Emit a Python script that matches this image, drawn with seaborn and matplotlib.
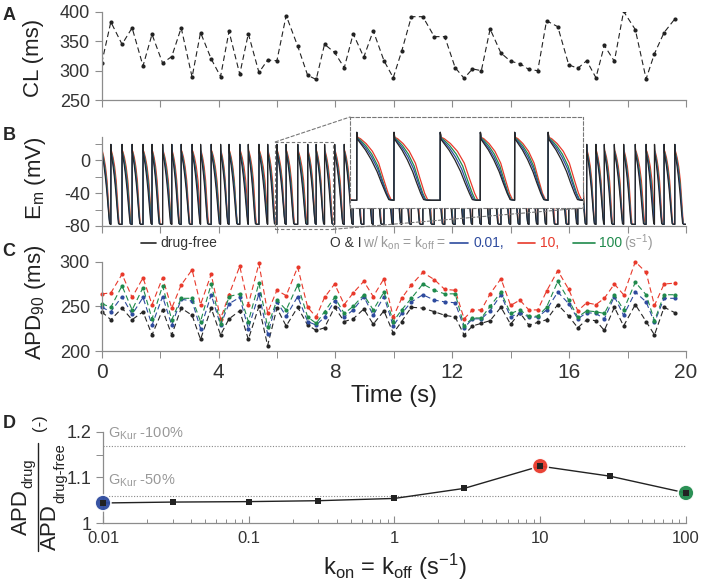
import numpy as np
import pandas as pd
import matplotlib
matplotlib.use('Agg')
import matplotlib.pyplot as plt
import seaborn as sns
from matplotlib.lines import Line2D
from matplotlib.patches import Rectangle, ConnectionPatch

sns.set_style('ticks')
plt.rcParams['font.family'] = ['Liberation Sans', 'DejaVu Sans']
plt.rcParams['mathtext.fontset'] = 'custom'
plt.rcParams['mathtext.rm'] = 'Liberation Sans'
plt.rcParams['mathtext.default'] = 'regular'
plt.rcParams['axes.unicode_minus'] = False

# ---- data ----
# cycle length of each beat (ms); beat i lasts cl_ms[i]
cl_ms = [313, 383, 345, 373, 308, 362, 313, 324, 373, 289,
         365, 320, 290, 367, 294, 363, 297, 318, 317, 394,
         342, 292, 285, 345, 331, 305, 363, 323, 368, 317,
         288, 333, 392, 392, 358, 358, 305, 287, 303, 300,
         371, 330, 316, 312, 302, 300, 385, 375, 310, 304,
         317, 288, 343, 316, 401, 370, 286, 329, 365, 388]

# APD90 (ms) per beat
apd_free = [244, 235, 248, 235, 244, 218, 246, 218, 248, 240,
            213, 248, 218, 236, 245, 213, 250, 206, 248, 228,
            249, 229, 223, 226, 249, 233, 236, 247, 230, 245,
            220, 233, 249, 248, 244, 240, 238, 218, 228, 231,
            234, 249, 230, 243, 229, 232, 235, 252, 239, 226,
            235, 234, 223, 249, 228, 252, 233, 218, 249, 243]
apd_001 = [249, 244, 261, 241, 260, 229, 261, 229, 258, 256,
           225, 263, 229, 253, 260, 225, 264, 219, 255, 239,
           261, 233, 229, 238, 256, 238, 246, 261, 240, 261,
           228, 242, 255, 263, 257, 255, 254, 226, 236, 236,
           245, 263, 238, 243, 238, 238, 246, 266, 253, 236,
           243, 242, 236, 261, 240, 266, 255, 232, 259, 259]
apd_10 = [264, 265, 286, 260, 282, 252, 282, 248, 274, 291,
          252, 286, 236, 263, 295, 252, 298, 243, 268, 262,
          294, 249, 238, 260, 275, 252, 265, 278, 261, 281,
          238, 259, 274, 288, 280, 269, 268, 236, 246, 246,
          264, 281, 251, 257, 246, 246, 267, 290, 269, 245,
          254, 252, 259, 275, 263, 300, 288, 251, 275, 276]
apd_100 = [253, 249, 273, 246, 271, 236, 273, 235, 259, 259,
           233, 275, 230, 261, 264, 233, 276, 227, 257, 246,
           274, 238, 231, 244, 260, 242, 250, 263, 246, 266,
           233, 246, 259, 275, 268, 264, 264, 228, 237, 237,
           250, 266, 242, 246, 239, 239, 249, 278, 257, 238,
           245, 244, 242, 263, 246, 277, 263, 234, 263, 263]

# action potential shape (fraction of APD90 -> mV)
ap_frac = [0.0, 0.004, 0.03, 0.12, 0.3, 0.5, 0.7, 0.85, 1.0]
ap_mv_free = [-78, 19, 9, 4, -6, -20, -37, -53, -68]
ap_mv_001 = [-78, 19, 10, 6, -3, -16, -33, -51, -68]
ap_mv_100 = [-78, 19, 11, 8, 0, -12, -29, -49, -68]
ap_mv_10 = [-78, 19, 12, 10, 3, -8, -25, -47, -68]

# panel D
k_rate = [0.01, 0.03, 0.1, 0.3, 1, 3, 10, 30, 100]
apd_ratio = [1.044, 1.046, 1.047, 1.049, 1.054, 1.076, 1.125, 1.103, 1.066]
gkur_levels = [1.169, 1.060]

series = ['drug-free', '0.01', '10', '100']
colors = {'drug-free': '#262626', '0.01': '#2e4b9e', '10': '#e8392b', '100': '#1f8a4c'}
apd_all = {'drug-free': apd_free, '0.01': apd_001, '10': apd_10, '100': apd_100}
ap_mv_all = {'drug-free': ap_mv_free, '0.01': ap_mv_001, '10': ap_mv_10, '100': ap_mv_100}

beat_t = np.concatenate([[0], np.cumsum(cl_ms[:-1])]) / 1000.0

W, H = 701, 582
def box(l, t, r, b):
    return [l / W, 1 - b / H, (r - l) / W, (b - t) / H]

def fx(x):
    return x / W

def fy(y):
    return 1 - y / H

GREY = '#8c8c8c'
TXT = '#333333'
DARK = '#222222'

fig = plt.figure(figsize=(7.01, 5.82), dpi=100)
axA = fig.add_axes(box(101.7, 12, 686, 100))
axB = fig.add_axes(box(101.7, 137, 686, 226))
axC = fig.add_axes(box(101.7, 261.7, 686, 351))
axD = fig.add_axes(box(103, 432, 686, 523))

for ax in [axA, axB, axC, axD]:
    sns.despine(ax=ax)
    for s in ['left', 'bottom']:
        ax.spines[s].set_color(GREY)
        ax.spines[s].set_linewidth(0.9)
    ax.tick_params(color=GREY, width=0.8, length=5, labelcolor=TXT, labelsize=13)
    ax.tick_params(which='minor', color=GREY, width=0.7, length=5)

# ---- A: cycle length ----
dfA = pd.DataFrame({'t': beat_t, 'cl': cl_ms})
sns.lineplot(data=dfA, x='t', y='cl', ax=axA, color=DARK, lw=0.8,
             linestyle=(0, (5, 3)), marker='o', markersize=3, markeredgewidth=0,
             estimator=None, sort=False)
axA.set_xlim(0, 20)
axA.set_ylim(250, 400)
axA.set_yticks([250, 300, 350, 400])
axA.set_xticks(np.arange(0, 21, 2))
axA.set_xticklabels([])
axA.set_xlabel('')
axA.set_ylabel('')

# ---- B: membrane potential traces ----
rows = []
for name in series:
    apd = apd_all[name]
    for i, t0 in enumerate(beat_t):
        t_next = beat_t[i + 1] if i + 1 < len(beat_t) else 20.0
        a = apd[i] / 1000.0
        pts = [(t0 + f * a, v) for f, v in zip(ap_frac, ap_mv_all[name])]
        pts += [(t0 + a + 0.025, -77), (t0 + a + 0.06, -78)]
        for tt, vv in pts:
            if tt < t_next:
                rows.append((name, tt, vv))
    rows.append((name, 20.0, -78))
dfB = pd.DataFrame(rows, columns=['series', 't', 'v'])

draw_order = ['10', '100', '0.01', 'drug-free']
for name in draw_order:
    sub = dfB[dfB['series'] == name]
    sns.lineplot(data=sub, x='t', y='v', ax=axB, color=colors[name], lw=0.8,
                 estimator=None, sort=False)
axB.set_xlim(0, 20)
axB.set_ylim(-80, 28)
axB.set_xticks(np.arange(0, 21, 2))
axB.set_xticklabels([])
axB.set_yticks([-80, -40, 0])
axB.set_yticks([-60, -20, 20], minor=True)
axB.set_xlabel('')
axB.set_ylabel('')

# inset zoom
axI = fig.add_axes(box(350, 117, 583, 208))
axI.set_facecolor('white')
for name in draw_order:
    sub = dfB[dfB['series'] == name]
    sns.lineplot(data=sub, x='t', y='v', ax=axI, color=colors[name], lw=0.9,
                 estimator=None, sort=False)
axI.set_xlim(5.94, 7.925)
axI.set_ylim(-89, 41)
axI.set_xticks([])
axI.set_yticks([])
axI.set_xlabel('')
axI.set_ylabel('')
for s in axI.spines.values():
    s.set_linestyle((0, (3, 2)))
    s.set_color('#777777')
    s.set_linewidth(0.8)

axB.add_patch(Rectangle((5.94, -84), 7.925 - 5.94, 106, fill=False, ls=(0, (3, 2)),
                        ec='#777777', lw=0.8, clip_on=False, zorder=4))
for xyA, xyB in [((5.94, 22), (0, 1)), ((7.925, -84), (1, 0))]:
    cp = ConnectionPatch(xyA=xyA, coordsA=axB.transData, xyB=xyB, coordsB=axI.transAxes,
                         ls=(0, (3, 2)), color='#777777', lw=0.8)
    fig.add_artist(cp)

# ---- C: APD90 ----
dfC = pd.DataFrame([(name, t, a) for name in series
                    for t, a in zip(beat_t, apd_all[name])],
                   columns=['series', 't', 'apd'])
for name in series:
    sub = dfC[dfC['series'] == name]
    sns.lineplot(data=sub, x='t', y='apd', ax=axC, color=colors[name], lw=0.8,
                 linestyle=(0, (5, 3)), marker='o', markersize=3, markeredgewidth=0,
                 estimator=None, sort=False, clip_on=False)
axC.set_xlim(0, 20)
axC.set_ylim(200, 300)
axC.set_yticks([200, 250, 300])
axC.set_xticks(np.arange(0, 21, 4))
axC.set_xticks(np.arange(2, 20, 4), minor=True)
axC.tick_params(axis='x', labelsize=15)
axC.set_xlabel('Time (s)', fontsize=17, color=DARK, labelpad=2)
axC.set_ylabel('')

# ---- D: APD ratio ----
dfD = pd.DataFrame({'k': k_rate, 'ratio': apd_ratio})
for lvl in gkur_levels:
    axD.axhline(lvl, color='#888888', lw=0.8, ls=(0, (1, 1.5)))
sns.lineplot(data=dfD, x='k', y='ratio', ax=axD, color=DARK, lw=1.0,
             estimator=None, sort=False)
hl = dfD.iloc[[0, 6, 8]].assign(series=['0.01', '10', '100'])
sns.scatterplot(data=hl, x='k', y='ratio', hue='series', palette=colors,
                hue_order=['0.01', '10', '100'], s=130, linewidth=1.2, edgecolor='white',
                alpha=0.95, ax=axD, legend=False, clip_on=False, zorder=3)
sns.scatterplot(data=dfD, x='k', y='ratio', ax=axD, marker='s', s=16, color=DARK,
                linewidth=0, clip_on=False, zorder=4)
axD.set_xscale('log')
axD.set_xlim(0.01, 100)
axD.set_ylim(1, 1.2)
axD.set_xticks([0.01, 0.1, 1, 10, 100])
axD.set_xticklabels(['0.01', '0.1', '1', '10', '100'])
axD.set_yticks([1, 1.1, 1.2])
axD.set_yticklabels(['1', '1.1', '1.2'])
axD.set_yticks([1.05, 1.15], minor=True)
axD.tick_params(axis='x', which='both', direction='in', labelsize=12, pad=6)
axD.tick_params(axis='x', which='minor', length=3)
axD.set_xlabel('k$_{on}$ = k$_{off}$ (s$^{-1}$)', fontsize=17, color=DARK, labelpad=4)
axD.set_ylabel('')
axD.text(0.0108, 1.195, 'G$_{Kur}$ -100%', color='#999999', fontsize=10.5, va='center')
axD.text(0.0108, 1.093, 'G$_{Kur}$ -50%', color='#999999', fontsize=10.5, va='center')

# ---- y labels and panel letters ----
fig.text(fx(34), fy(58), 'CL (ms)', rotation=90, fontsize=16, ha='center', va='center', color=DARK)
fig.text(fx(35), fy(178), 'E$_m$ (mV)', rotation=90, fontsize=16, ha='center', va='center', color=DARK)
fig.text(fx(35), fy(302), 'APD$_{90}$ (ms)', rotation=90, fontsize=16, ha='center', va='center', color=DARK)

renderer = fig.canvas.get_renderer()

def stacked_label(x_base, y_start, sub, x_sub):
    main = fig.text(fx(x_base), fy(y_start), 'APD', rotation=90, rotation_mode='anchor',
                    ha='left', va='baseline', fontsize=16, color=DARK)
    length = main.get_window_extent(renderer).height
    fig.text(fx(x_sub), fy(y_start - length - 1), sub, rotation=90, rotation_mode='anchor',
             ha='left', va='baseline', fontsize=10.5, color=DARK)

stacked_label(27, 535, 'drug', 32)
stacked_label(56, 550, 'drug-free', 64)
fig.add_artist(Line2D([fx(37.5), fx(37.5)], [fy(443), fy(551)], color=DARK, lw=1.0))
fig.text(fx(39), fy(423), '(-)', rotation=90, fontsize=12, ha='center', va='center', color=DARK)

for letter, y in [('A', 15), ('B', 135), ('C', 251), ('D', 423)]:
    fig.text(fx(9), fy(y), letter, fontsize=13, fontweight='bold', ha='center', va='center')

# ---- legend row ----
ly = 243
for x0, x1, name in [(141, 156, 'drug-free'), (450, 468, '0.01'), (518, 535, '10'), (573, 595, '100')]:
    fig.add_artist(Line2D([fx(x0), fx(x1)], [fy(ly), fy(ly)], color=colors[name], lw=1.2))
fig.text(fx(160), fy(ly), 'drug-free', fontsize=10, color=TXT, va='center')
fig.text(fx(330), fy(ly), 'O & I', fontsize=10, color=TXT, va='center')
fig.text(fx(363), fy(ly), 'w/ k$_{on}$ = k$_{off}$ =', fontsize=10, color='#999999', va='center')
fig.text(fx(473), fy(ly), '0.01,', fontsize=10, color=colors['0.01'], va='center')
fig.text(fx(540), fy(ly), '10,', fontsize=10, color=colors['10'], va='center')
fig.text(fx(599), fy(ly), '100', fontsize=10, color=colors['100'], va='center')
fig.text(fx(624), fy(ly), '(s$^{-1}$)', fontsize=10, color='#999999', va='center')

fig.savefig('out.png', dpi=100, facecolor='white')
